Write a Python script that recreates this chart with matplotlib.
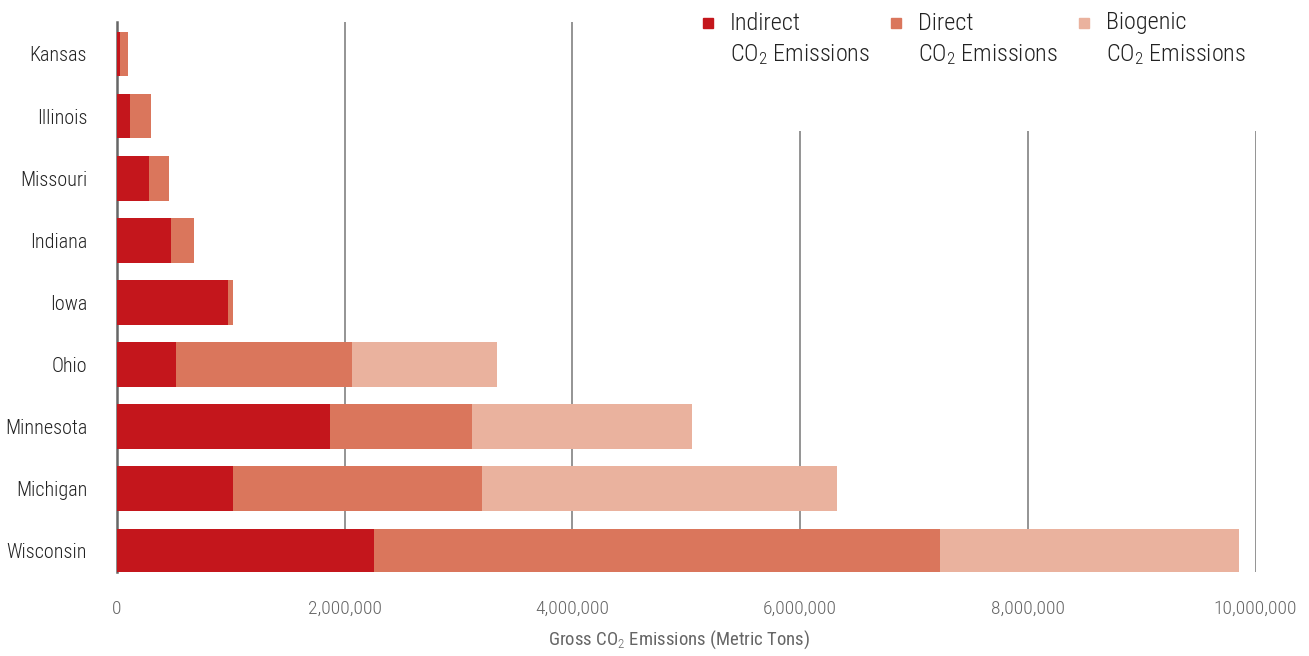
import matplotlib
matplotlib.use("Agg")
import matplotlib.pyplot as plt
from matplotlib.patches import Rectangle
from matplotlib.ticker import FuncFormatter
from matplotlib import font_manager as fm

states = ["Kansas", "Illinois", "Missouri", "Indiana", "Iowa", "Ohio",
          "Minnesota", "Michigan", "Wisconsin"]
indirect = [30000, 110000, 277000, 470000, 971000, 514000, 1867000, 1015000, 2254000]
direct = [70000, 185000, 176000, 202000, 44000, 1547000, 1248000, 2188000, 4974000]
biogenic = [0, 0, 0, 0, 0, 1274000, 1937000, 3119000, 2627000]
xticks = [0, 2000000, 4000000, 6000000, 8000000, 10000000]
series_labels = ["Indirect", "Direct", "Biogenic"]
colors = ["#C4161C", "#DA765C", "#EAB29E"]

available = set(f.name for f in fm.fontManager.ttflist)
cands = ["Roboto Condensed", "Barlow Condensed", "Asap Condensed", "Archivo Narrow", "DejaVu Sans"]
FONT = [c for c in cands if c in available] or ["DejaVu Sans"]
main = FONT[0]
plt.rcParams['font.family'] = FONT
plt.rcParams['font.weight'] = 'light'
plt.rcParams['mathtext.fontset'] = 'custom'
plt.rcParams['mathtext.rm'] = main + ":light"
plt.rcParams['mathtext.it'] = main + ":light"
plt.rcParams['mathtext.bf'] = main

fig = plt.figure(figsize=(13.09, 6.56), dpi=100)
ax = fig.add_axes([117 / 1309, 1 - 572 / 656, (1255.5 - 117) / 1309, (572 - 22) / 656])

y = list(range(len(states)))
left2 = [a for a in indirect]
left3 = [a + b for a, b in zip(indirect, direct)]
h = 0.72
ax.barh(y, indirect, height=h, color=colors[0], zorder=3)
ax.barh(y, direct, left=left2, height=h, color=colors[1], zorder=3)
ax.barh(y, biogenic, left=left3, height=h, color=colors[2], zorder=3)

ax.set_xlim(0, 10000000)
ax.set_ylim(8 + 0.34, -0.515)

# gridlines
for t in xticks[1:]:
    top = -0.515 if t <= 4000000 else 1.24
    ax.vlines(t, top, 8.34, color="#777777", linewidth=1.1, zorder=1)

for s in ["top", "right", "bottom"]:
    ax.spines[s].set_visible(False)
ax.spines["left"].set_color("#666666")
ax.spines["left"].set_linewidth(1.8)

ax.set_yticks(y)
ax.set_yticklabels(states, fontsize=14.5, color="#222222")
ax.set_xticks(xticks)
ax.xaxis.set_major_formatter(FuncFormatter(lambda v, p: f"{int(v):,}"))
ax.tick_params(axis="x", length=0, pad=20, labelsize=14, labelcolor="#666666")
ax.tick_params(axis="y", length=0, pad=21.5)

ax.set_xlabel("Gross CO$_2$ Emissions (Metric Tons)", fontsize=13.5, color="#666666",
              labelpad=8, x=(679 - 117) / 1138.5)

# legend
lx = [703, 891, 1079]
for i in range(3):
    x0 = lx[i] / 1309
    fig.patches.append(Rectangle((x0, 1 - 28 / 656), 10 / 1309, 10 / 656,
                                 transform=fig.transFigure, color=colors[i]))
    fig.text((lx[i] + 27) / 1309, 1 - 23 / 656, series_labels[i], fontsize=17.5,
             color="#222222", va="center", ha="left")
    fig.text((lx[i] + 27) / 1309, 1 - 55 / 656, "CO$_2$ Emissions", fontsize=17.5,
             color="#222222", va="center", ha="left")

fig.savefig("out.png", dpi=100)
